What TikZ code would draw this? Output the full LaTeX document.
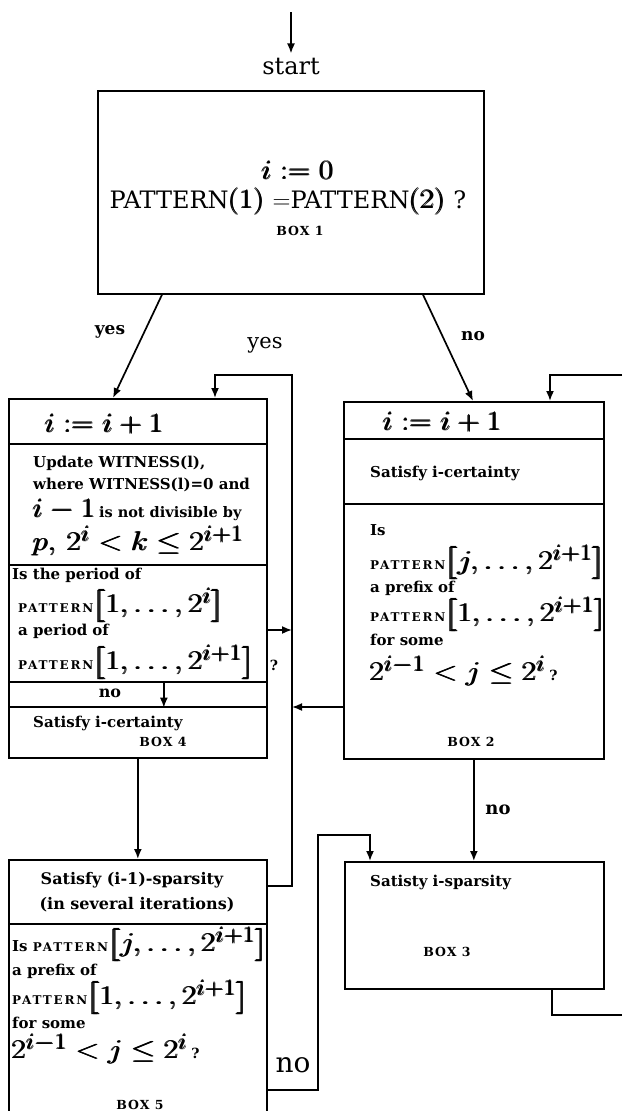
\documentclass[tikz,border=0pt]{standalone}
\usepackage{amsmath,amssymb}
\usepackage{graphicx}
\usepackage[no-math]{fontspec}
\setmainfont{DejaVu Serif}
\newfontfamily\capsfont{DejaVu Serif}[LetterSpace=15]
\newfontfamily\lblfont{DejaVu Serif}[LetterSpace=8]
\usepackage{tikz}
\usetikzlibrary{arrows.meta,positioning}

\newcommand{\patt}{{\capsfont\bfseries\fontsize{12}{13}\selectfont PATTERN}}
\newcommand{\boxlbl}[1]{{\lblfont\bfseries\fontsize{12.5}{14}\selectfont BOX #1}}
\newcommand{\bft}{\bfseries\fontsize{15}{17}\selectfont}
\newcommand{\mth}[1]{{\fontsize{24.88}{28}\selectfont\scalebox{1.25}[1.08]{$\pmb{#1}$}}}
\newcommand{\qm}{{\bfseries\fontsize{14}{16}\selectfont ?}}

\begin{document}
\begin{tikzpicture}[x=1pt,y=-1pt,
  sec/.style={draw, line width=1.7pt, anchor=north west, inner sep=0pt},
  txt/.style={anchor=west, inner sep=0pt},
  lbl/.style={inner sep=0pt},
  arr/.style={line width=1.7pt, -{Latex[length=10pt,width=8pt]}},
  ln/.style={line width=1.7pt}]
\useasboundingbox (0,0) rectangle (622,1111);

% box 1
\coordinate (src) at (291,12);
\node[lbl, inner sep=5pt, font=\fontsize{24}{27}\selectfont] (start) at (291,67) {start};
\node[sec, minimum width=386pt, minimum height=203pt] (b1) at (97,90) {};
\node[lbl] (b1t1) at (298,170) {\mth{i := 0}};
\node[lbl, font=\fontsize{24}{27}\selectfont] (b1t2) at (288,201)
  {PATTERN\mth{(1)} $=$PATTERN\mth{(2)} ?};
\node[lbl] (b1t3) at (300,231) {\boxlbl{1}};
\draw[arr] (src) -- (start);

% box 4
\node[sec, minimum width=258pt, minimum height=45pt] (b4a) at (8,398) {};
\node[sec, minimum width=258pt, minimum height=121pt] (b4b) at (8,443) {};
\node[sec, minimum width=258pt, minimum height=117pt] (b4c) at (8,564) {};
\node[sec, minimum width=258pt, minimum height=25pt] (b4d) at (8,681) {};
\node[sec, minimum width=258pt, minimum height=51pt] (b4e) at (8,706) {};
\node[txt] (b4t1) at (45,424) {\mth{i := i+1}};
\node[txt, font=\bft] (b4t2) at (33,463) {Update WITNESS(l),};
\node[txt, font=\bft] (b4t3) at (33,485) {where WITNESS(l)=0 and};
\node[txt] (b4t4) at (33,510) {\mth{i-1}\ {\bfseries\fontsize{14.5}{16}\selectfont is not divisible by}};
\node[txt] (b4t5) at (33,541) {\mth{p,\, 2^i < k \le 2^{i+1}}};
\node[txt, font=\bft] (b4t6) at (12,575) {Is the period of};
\node[txt] (b4t7) at (18,605) {\patt\mth{\bigl[1,\ldots,2^i\bigr]}};
\node[txt, font=\bft] (b4t8) at (18,631) {a period of};
\node[txt] (b4t9) at (18,662) {\patt\mth{\bigl[1,\ldots,2^{i+1}\bigr]}};
\node[lbl] (q4) at (274,665) {\qm};
\node[lbl, font=\bfseries\fontsize{16}{18}\selectfont] (no4) at (110,693) {no};
\node[txt, font=\bft] (b4t10) at (33,723) {Satisfy i-certainty};
\node[lbl] (b4t11) at (163,742) {\boxlbl{4}};

% box 2
\node[sec, minimum width=260pt, minimum height=37pt] (b2a) at (343,401) {};
\node[sec, minimum width=260pt, minimum height=65pt] (b2b) at (343,438) {};
\node[sec, minimum width=260pt, minimum height=255pt] (b2c) at (343,503) {};
\node[txt] (b2t1) at (383,422) {\mth{i := i+1}};
\node[txt, font=\bft] (b2t2) at (370,473) {Satisfy i-certainty};
\node[txt, font=\bft] (b2t3) at (370,530) {Is};
\node[txt] (b2t4) at (370,562) {\patt\mth{\bigl[j,\ldots,2^{i+1}\bigr]}};
\node[txt, font=\bft] (b2t5) at (370,588) {a prefix of};
\node[txt] (b2t6) at (370,614) {\patt\mth{\bigl[1,\ldots,2^{i+1}\bigr]}};
\node[txt, font=\bft] (b2t7) at (370,640) {for some};
\node[txt] (b2t8) at (370,671) {\mth{2^{i-1} < j \le 2^i}\ \qm};
\node[lbl] (b2t9) at (471,742) {\boxlbl{2}};

% box 3
\node[sec, minimum width=259pt, minimum height=127pt] (b3) at (344,861) {};
\node[txt, font=\bft] (b3t1) at (370,882) {Satisty i-sparsity};
\node[lbl] (b3t2) at (447,952) {\boxlbl{3}};

% box 5
\node[sec, minimum width=258pt, minimum height=64pt] (b5a) at (8,859) {};
\node[sec, minimum width=258pt, minimum height=200pt] (b5b) at (8,923) {};
\node[lbl, font=\bfseries\fontsize{16}{18}\selectfont] (b5t1) at (132,880) {Satisfy (i-1)-sparsity};
\node[lbl, font=\bfseries\fontsize{16}{18}\selectfont] (b5t2) at (137,905) {(in several iterations)};
\node[txt] (b5t3) at (12,944) {{\bft Is }\patt\mth{\bigl[j,\ldots,2^{i+1}\bigr]}};
\node[txt, font=\bft] (b5t4) at (12,971) {a prefix of};
\node[txt] (b5t5) at (12,997) {\patt\mth{\bigl[1,\ldots,2^{i+1}\bigr]}};
\node[txt, font=\bft] (b5t6) at (12,1023) {for some};
\node[txt] (b5t7) at (12,1049) {\mth{2^{i-1} < j \le 2^i}\ \qm};
\node[lbl] (b5t8) at (140,1105) {\boxlbl{5}};

% connectors
\draw[arr] ([xshift=65pt]b1.south west) -- ([xshift=105pt]b4a.north west);
\draw[arr] ([xshift=326pt]b1.south west) -- ([xshift=130pt]b2a.north west);
\node[lbl, font=\bfseries\fontsize{17}{19}\selectfont] (yes1) at (110,332) {yes};
\node[lbl, font=\fontsize{21}{24}\selectfont] (yes2) at (265,345) {yes};
\node[lbl, font=\bfseries\fontsize{17}{19}\selectfont] (no1) at (473,336) {no};

\coordinate (ytop) at (292,375);
\coordinate (m1) at (292,630);
\coordinate (m2) at (292,707);
\draw[arr] ([yshift=6pt]b5a.east) -| (ytop) -| ([xshift=207pt]b4a.north west);
\draw[arr] (b4c.east |- m1) -- (m1);
\draw[arr] (b2c.west |- m2) -- (m2);
\draw[arr] ([xshift=26pt]b4d.north) -- ([xshift=26pt]b4d.south);
\draw[arr] (b4e.south) -- (b5a.north);

\coordinate (r1) at (622,375);
\draw[arr] (r1) -| ([xshift=207pt]b2a.north west);
\draw[arr] (b2c.south) -- (b2c.south |- b3.north);
\node[lbl, font=\bfseries\fontsize{18}{20}\selectfont] (no2) at (498,810) {no};

\coordinate (r2) at (622,1015);
\draw[ln] ([xshift=208pt]b3.south west) |- (r2);

\coordinate (n1) at (318,835);
\coordinate (n2) at (318,1090);
\draw[arr] (b5b.east |- n2) -| (n1) -| ([xshift=26pt]b3.north west);
\node[lbl, font=\fontsize{28}{32}\selectfont] (no3) at (293,1065) {no};
\end{tikzpicture}
\end{document}
